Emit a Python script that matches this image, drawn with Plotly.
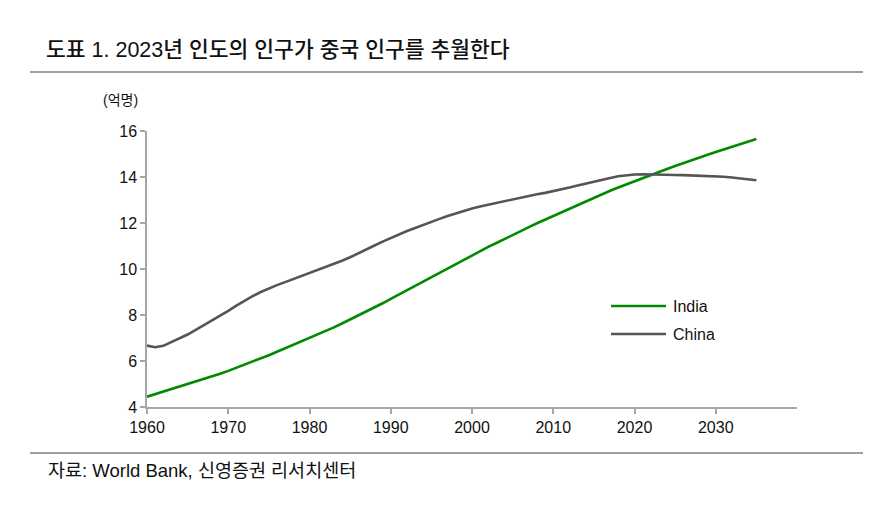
import plotly.graph_objects as go

years = list(range(1960, 2036))
india = [4.45, 4.56, 4.66, 4.76, 4.87, 4.98, 5.09, 5.21, 5.33, 5.45,
         5.57, 5.70, 5.83, 5.97, 6.11, 6.25, 6.40, 6.55, 6.70, 6.85,
         6.99, 7.14, 7.30, 7.46, 7.63, 7.80, 7.97, 8.15, 8.33, 8.51,
         8.70, 8.89, 9.08, 9.27, 9.46, 9.65, 9.84, 10.03, 10.22, 10.41,
         10.60, 10.78, 10.96, 11.13, 11.31, 11.48, 11.65, 11.82, 11.99, 12.15,
         12.31, 12.47, 12.63, 12.79, 12.95, 13.10, 13.25, 13.40, 13.54, 13.68,
         13.82, 13.95, 14.08, 14.22, 14.35, 14.48, 14.61, 14.73, 14.85, 14.97,
         15.09, 15.20, 15.31, 15.42, 15.53, 15.65]
china = [6.67, 6.60, 6.66, 6.82, 6.98, 7.15, 7.35, 7.55, 7.76, 7.97,
         8.18, 8.41, 8.62, 8.82, 9.00, 9.16, 9.30, 9.43, 9.56, 9.69,
         9.81, 9.94, 10.09, 10.23, 10.36, 10.51, 10.67, 10.84, 11.02, 11.19,
         11.35, 11.50, 11.65, 11.78, 11.92, 12.05, 12.18, 12.30, 12.42, 12.53,
         12.63, 12.72, 12.80, 12.88, 12.96, 13.04, 13.11, 13.18, 13.25, 13.31,
         13.38, 13.45, 13.54, 13.63, 13.72, 13.79, 13.87, 13.96, 14.03, 14.08,
         14.11, 14.12, 14.12, 14.11, 14.10, 14.09, 14.08, 14.07, 14.06, 14.05,
         14.03, 14.01, 13.98, 13.95, 13.91, 13.86]
x_ticks = [1960, 1970, 1980, 1990, 2000, 2010, 2020, 2030]
y_ticks = [4, 6, 8, 10, 12, 14, 16]
series_names = ["India", "China"]
colors = ["#008a00", "#555555"]

FONT = "Liberation Sans, Noto Sans CJK KR, sans-serif"

# geometry in page pixels (page has 8px body margin)
OFF = 8
PL, PR, PT, PB = 147, 797, 131, 407
W, H = 896 - 2 * OFF, 522 - 2 * OFF
PW, PH = PR - PL, PB - PT


def px(x):
    return (x - PL) / PW


def py(y):
    return (PB - y) / PH


fig = go.Figure()
for name, vals, c in zip(series_names, [india, china], colors):
    fig.add_trace(go.Scatter(x=years, y=vals, mode="lines", name=name,
                             line=dict(color=c, width=2.6), showlegend=False))

axis_common = dict(showgrid=False, zeroline=False, showline=True, linecolor="#a6a6a6",
                   linewidth=1.5, ticks="outside", ticklen=5, tickcolor="#a6a6a6",
                   tickwidth=1.5, tickfont=dict(size=16, family=FONT, color="#111"))
fig.update_layout(
    width=W, height=H,
    margin=dict(l=PL - OFF, r=W - (PR - OFF), t=PT - OFF, b=H - (PB - OFF)),
    paper_bgcolor="white", plot_bgcolor="white",
    font=dict(family=FONT, size=16, color="#111"),
    xaxis=dict(range=[1960, 2040], tickvals=x_ticks, **axis_common),
    yaxis=dict(range=[4, 16], tickvals=y_ticks, **axis_common),
)

fig.add_annotation(text="도표 1. 2023년 인도의 인구가 중국 인구를 추월한다", xref="paper", yref="paper",
                   x=px(44), y=py(50), xanchor="left", yanchor="middle",
                   showarrow=False, font=dict(family=FONT, size=21.5, color="#111", weight=500))
for yy in (72, 453):
    fig.add_shape(type="line", xref="paper", yref="paper", x0=px(30), x1=px(863),
                  y0=py(yy), y1=py(yy), line=dict(color="#a0a0a0", width=2))
fig.add_annotation(text="(억명)", xref="paper", yref="paper",
                   x=px(101), y=py(100), xanchor="left", yanchor="middle",
                   showarrow=False, font=dict(family=FONT, size=14, color="#111"))
fig.add_annotation(text="자료: World Bank, 신영증권 리서치센터", xref="paper", yref="paper",
                   x=px(46), y=py(470), xanchor="left", yanchor="middle",
                   showarrow=False, font=dict(family=FONT, size=18.5, color="#111"))

for i, (name, c) in enumerate(zip(series_names, colors)):
    yy = py(306 + 28 * i)
    fig.add_shape(type="line", xref="paper", yref="paper", x0=px(611), x1=px(666),
                  y0=yy, y1=yy, line=dict(color=c, width=2.6))
    fig.add_annotation(text=name, xref="paper", yref="paper", x=px(671), y=yy,
                       xanchor="left", yanchor="middle", showarrow=False,
                       font=dict(family=FONT, size=16, color="#111"))

fig.write_html("out.html")
